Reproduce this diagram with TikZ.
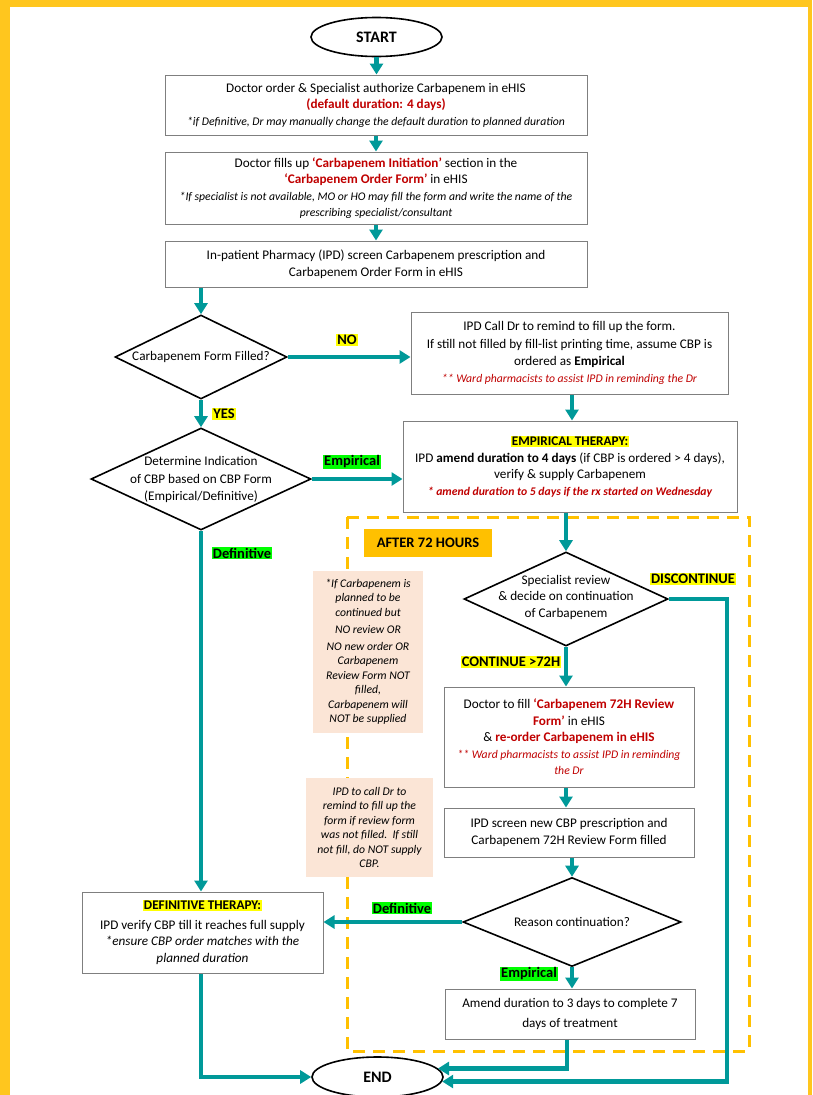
\documentclass[tikz,border=0pt]{standalone}
\usepackage{fontspec}
\setmainfont{Carlito}
\usetikzlibrary{arrows.meta,shapes.geometric,calc}
\definecolor{frameY}{RGB}{255,198,30}
\definecolor{dashO}{RGB}{255,192,0}
\definecolor{tealC}{RGB}{0,153,153}
\definecolor{redT}{RGB}{192,0,0}
\definecolor{pinkN}{RGB}{251,229,214}
\definecolor{hlY}{RGB}{255,255,0}
\definecolor{hlG}{RGB}{0,255,0}
\definecolor{boxG}{RGB}{127,127,127}
\newcommand\mainf{\fontsize{13.2}{16.5}\selectfont}
\newcommand\notef{\fontsize{11.7}{14.5}\selectfont\itshape}
\newcommand\rednote{\color{redT}\notef}
\newcommand\redb[1]{{\color{redT}\bfseries #1}}
\newcommand\hlbox[1]{{\setlength{\fboxsep}{1pt}\colorbox{hlY}{\bfseries #1}}}
\begin{document}
\begin{tikzpicture}[x=1pt,y=-1pt,
  box/.style={draw=boxG, line width=1pt, fill=white, inner sep=0pt, align=center, font=\mainf},
  dia/.style={diamond, draw=black, line width=1.6pt, fill=white, inner sep=0pt},
  term/.style={ellipse, draw=black, line width=1.6pt, fill=white, inner sep=0pt, font=\fontsize{16}{18}\selectfont\bfseries},
  txt/.style={align=center, inner sep=0pt, font=\mainf},
  note/.style={fill=pinkN, inner sep=0pt, align=center, font=\notef},
  ylab/.style={fill=hlY, inner sep=1pt, font=\fontsize{14.5}{16}\selectfont\bfseries},
  glab/.style={fill=hlG, inner sep=1pt, font=\fontsize{14.5}{16}\selectfont\bfseries},
  conn/.style={draw=tealC, line width=4.2pt, -{Triangle[width=13pt,length=11pt]}},
]
\useasboundingbox (0,0) rectangle (812,1095);
\fill[white] (0,0) rectangle (812,1095);
\fill[frameY] (0,0) rectangle (10,1095);
\fill[frameY] (0,0) rectangle (812,7);
\fill[frameY] (808,0) rectangle (812,1095);

% dashed region
\draw[dashO, line width=3pt, dash pattern=on 12pt off 8pt] (347,517) rectangle (749,1051);

% terminals
\node[term, minimum width=131, minimum height=39] (start) at (376.5,37) {START};
\node[term, minimum width=131, minimum height=40] (end) at (377.5,1077) {END};

% boxes
\node[box, minimum width=422, minimum height=60] (b1) at (376,105)
 {Doctor order \& Specialist authorize Carbapenem in eHIS\\
  \redb{(default duration: 4 days)}\\
  \notef *if Definitive, Dr may manually change the default duration to planned duration};
\node[box, minimum width=422, minimum height=72] (b2) at (376,188)
 {Doctor fills up \redb{‘Carbapenem Initiation’} section in the\\
  \redb{‘Carbapenem Order Form’} in eHIS\\
  \notef *If specialist is not available, MO or HO may fill the form and write the name of the\\
  \notef prescribing specialist/consultant};
\node[box, minimum width=422, minimum height=46] (b3) at (376,264)
 {In-patient Pharmacy (IPD) screen Carbapenem prescription and\\
  Carbapenem Order Form in eHIS};
\node[box, minimum width=317, minimum height=82] (b4) at (569.5,353)
 {IPD Call Dr to remind to fill up the form.\\[2pt]
  If still not filled by fill-list printing time, assume CBP is\\
  ordered as \textbf{Empirical}\\[1pt]
  \rednote ** Ward pharmacists to assist IPD in reminding the Dr};
\node[box, minimum width=334, minimum height=91] (b5) at (570,466.5)
 {\hlbox{EMPIRICAL THERAPY:}\\
  IPD \textbf{amend duration to 4 days} (if CBP is ordered > 4 days),\\
  verify \& supply Carbapenem\\
  \rednote\bfseries * amend duration to 5 days if the rx started on Wednesday};
\node[box, minimum width=250, minimum height=100] (b6) at (569,737)
 {Doctor to fill \redb{‘Carbapenem 72H Review}\\
  \redb{Form’} in eHIS\\
  \& \redb{re-order Carbapenem in eHIS}\\
  \rednote ** Ward pharmacists to assist IPD in reminding\\
  \rednote the Dr};
\node[box, minimum width=250, minimum height=49] (b7) at (569,832.5)
 {IPD screen new CBP prescription and\\
  Carbapenem 72H Review Form filled};
\node[box, minimum width=250, minimum height=50] (b8) at (570,1014)
 {Amend duration to 3 days to complete 7\\[3pt]
  days of treatment};
\node[box, minimum width=241, minimum height=81] (b9) at (202.5,932.5)
 {\hlbox{DEFINITIVE THERAPY:}\\[3pt]
  IPD verify CBP till it reaches full supply\\
  \itshape *ensure CBP order matches with the\\
  \itshape planned duration};

% diamonds
\node[dia, minimum width=172, minimum height=84] (d1) at (201,357) {};
\node[txt] (d1t) at (d1) {Carbapenem Form Filled?};
\node[dia, minimum width=220, minimum height=102] (d2) at (201,479) {};
\node[txt] (d2t) at (201,479) {Determine Indication\\[2pt] of CBP based on CBP Form\\(Empirical/Definitive)};
\node[dia, minimum width=204, minimum height=94] (d3) at (566,599) {};
\node[txt] (d3t) at (566,597) {Specialist review\\ \& decide on continuation\\ of Carbapenem};
\node[dia, minimum width=218, minimum height=89] (d4) at (572,922) {};
\node[txt] (d4t) at (d4) {Reason continuation?};

% notes
\node[note, minimum width=110, minimum height=162] (n1) at (368,652)
 {*If Carbapenem is\\ planned to be\\ continued but\\[3pt] NO review OR\\[2pt] NO new order OR\\ Carbapenem\\ Review Form NOT\\ filled,\\ Carbapenem will\\ NOT be supplied};
\node[note, minimum width=127, minimum height=99] (n2) at (369.5,827.5)
 {IPD to call Dr to\\ remind to fill up the\\ form if review form\\ was not filled.\ \ If still\\ not fill, do NOT supply\\ CBP.};
\node[fill=dashO, minimum width=128, minimum height=28, inner sep=0pt, font=\fontsize{14.5}{16}\selectfont\bfseries] (after) at (428,543) {AFTER 72 HOURS};

% connectors
\coordinate (rail) at (727,599);
\coordinate (c5) at (572,0);
\coordinate (c8) at (567,0);
\draw[conn] (start.south) -- (start.south |- b1.north);
\draw[conn] (b1.south) -- (b2.north);
\draw[conn] (b2.south) -- (b3.north);
\draw[conn] (b3.south -| d1.north) -- (d1.north);
\draw[conn] (d1.east) -- (d1.east -| b4.west);
\draw[conn] (b4.south -| c5) -- (c5 |- b5.north);
\draw[conn] (d1.south) -- (d2.north);
\draw[conn] (d2.east) -- (d2.east -| b5.west);
\draw[conn] (d2.south) -- (d2.south |- b9.north);
\draw[conn] (d3.north |- b5.south) -- (d3.north);
\draw[conn] (d3.south) -- (d3.south |- b6.north);
\draw[conn] (d3.east) -- (rail) |- (end.-4.5);
\draw[conn] (d3.south |- b6.south) -- (d3.south |- b7.north);
\draw[conn] (d4.north |- b7.south) -- (d4.north);
\draw[conn] (d4.west) -- (d4.west -| b9.east);
\draw[conn] (d4.south) -- (d4.south |- b8.north);
\draw[conn] (b8.south -| c8) |- (end.8.7);
\draw[conn] (d2.south |- b9.south) |- (end.west);

% labels
\node[ylab] (lno) at (347,340) {NO};
\node[ylab] (lyes) at (224,414) {YES};
\node[glab] (lemp1) at (352,462) {Empirical};
\node[glab] (ldef1) at (242,553) {Definitive};
\node[ylab] (ldisc) at (693,579) {DISCONTINUE};
\node[ylab] (lcont) at (511,662) {CONTINUE >72H};
\node[glab] (ldef2) at (402,908) {Definitive};
\node[glab] (lemp2) at (529,974) {Empirical};
\end{tikzpicture}
\end{document}
